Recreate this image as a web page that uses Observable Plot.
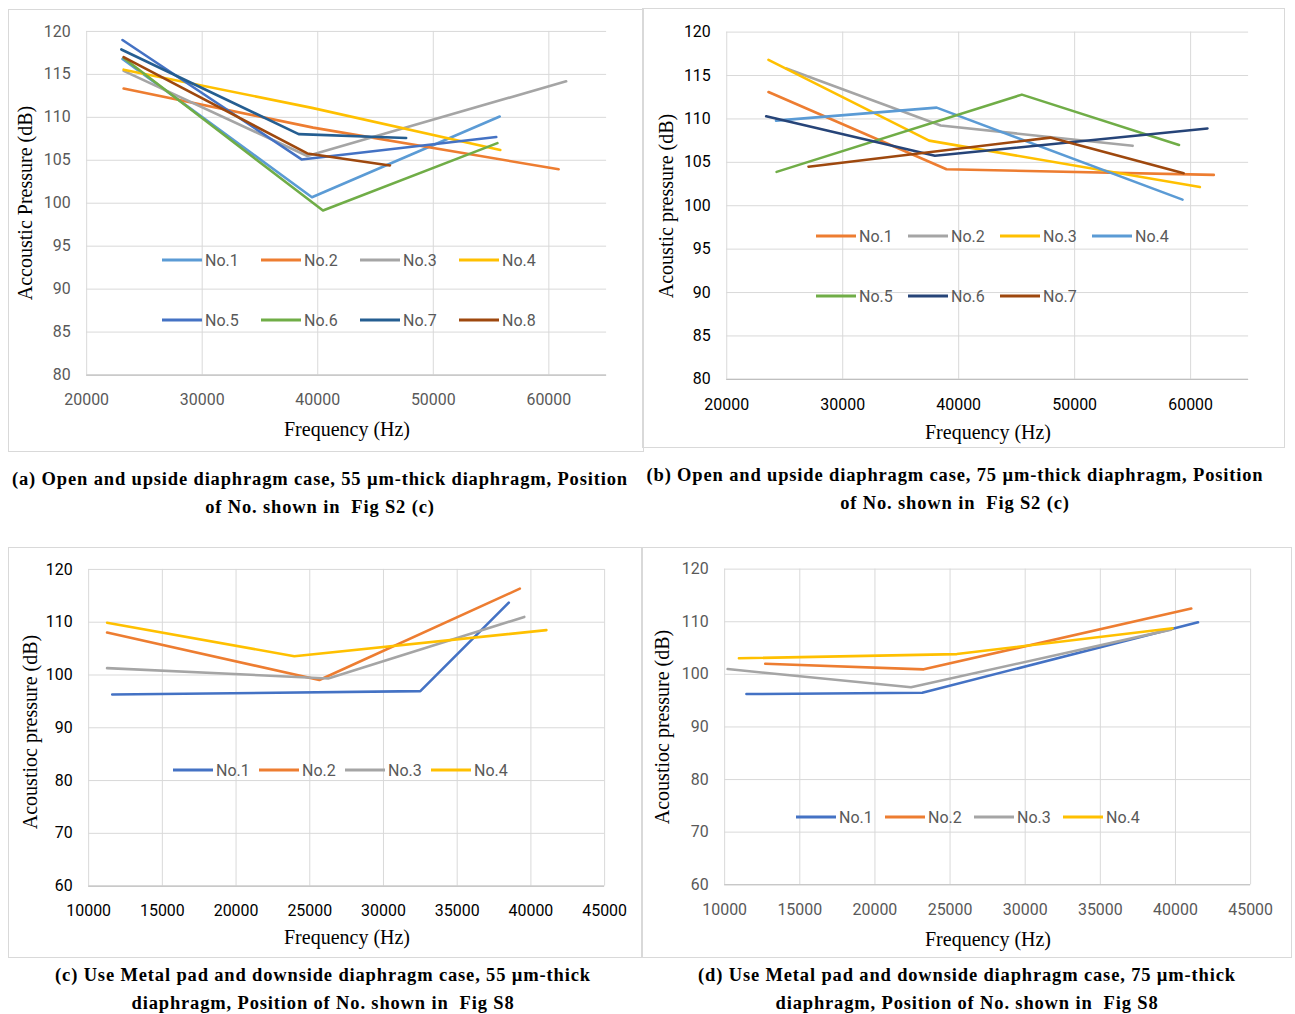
<!DOCTYPE html>
<html>
<head>
<meta charset="utf-8">
<script src="https://cdn.jsdelivr.net/npm/d3@7"></script>
<script src="https://cdn.jsdelivr.net/npm/@observablehq/plot@0.6"></script>
<style>
  body { margin: 0; background: #fff; width: 1295px; height: 1014px; position: relative; overflow: hidden; }
  .box { position: absolute; border: 1px solid #d9d9d9; box-sizing: border-box; }
  .box svg { position: absolute; left: -1px; top: -1px; }
  .lbl { position: absolute; font-family: "Liberation Serif", "Times New Roman", serif; font-size: 20px; color: #000; white-space: nowrap; transform: translate(-50%, -50%); }
  .ylbl { transform: translate(-50%, -50%) rotate(-90deg); }
  .leg { position: absolute; font-family: Roboto, sans-serif; font-size: 16px; color: #595959; white-space: nowrap; display: flex; align-items: center; transform: translateY(-50%); }
  .leg span.sw { display: inline-block; width: 40px; height: 3px; margin-right: 3px; }
  .cap { position: absolute; font-family: "Liberation Serif", "Times New Roman", serif; font-weight: bold; font-size: 18.5px; color: #000; white-space: pre; transform: translate(-50%, -50%); letter-spacing: 0.85px; }
</style>
</head>
<body>
<script>
// ---- (a) open / upside diaphragm, 55 µm ----
const namesA = ["No.1", "No.2", "No.3", "No.4", "No.5", "No.6", "No.7", "No.8"];
const colorsA = ["#5B9BD5", "#ED7D31", "#A5A5A5", "#FFC000", "#4472C4", "#70AD47", "#255E91", "#9E480E"];
const seriesA = [
  [[23100, 116.8], [39500, 100.7], [55750, 110.1]],
  [[23200, 113.35], [39600, 108.8], [60850, 103.95]],
  [[23200, 115.4], [39100, 105.5], [61500, 114.2]],
  [[23200, 115.55], [39500, 111.1], [55800, 106.2]],
  [[23100, 119.0], [38600, 105.1], [55450, 107.7]],
  [[23200, 116.9], [40450, 99.15], [55550, 107.0]],
  [[23000, 117.9], [38350, 108.05], [47650, 107.6]],
  [[23200, 117.0], [39100, 105.8], [46250, 104.4]]
];
const xTicksA = [20000, 30000, 40000, 50000, 60000];
const yTicksA = [80, 85, 90, 95, 100, 105, 110, 115, 120];

// ---- (b) open / upside diaphragm, 75 µm ----
const namesB = ["No.1", "No.2", "No.3", "No.4", "No.5", "No.6", "No.7"];
const colorsB = ["#ED7D31", "#A5A5A5", "#FFC000", "#5B9BD5", "#70AD47", "#264478", "#9E480E"];
const seriesB = [
  [[23600, 113.1], [38950, 104.2], [62000, 103.55]],
  [[25150, 115.8], [38450, 109.25], [55000, 106.9]],
  [[23600, 116.8], [37450, 107.5], [60800, 102.15]],
  [[24250, 109.8], [38100, 111.3], [59300, 100.7]],
  [[24300, 103.9], [45450, 112.8], [59000, 107.0]],
  [[23400, 110.3], [37950, 105.75], [61450, 108.9]],
  [[27050, 104.5], [47900, 107.85], [59400, 103.75]]
];
const xTicksB = [20000, 30000, 40000, 50000, 60000];
const yTicksB = [80, 85, 90, 95, 100, 105, 110, 115, 120];

// ---- (c) metal pad / downside diaphragm, 55 µm ----
const namesC = ["No.1", "No.2", "No.3", "No.4"];
const colorsC = ["#4472C4", "#ED7D31", "#A5A5A5", "#FFC000"];
const seriesC = [
  [[11600, 96.3], [32500, 96.95], [38500, 113.7]],
  [[11250, 108.05], [25650, 99.05], [39250, 116.35]],
  [[11250, 101.3], [26250, 99.35], [39550, 111.0]],
  [[11250, 109.9], [23950, 103.55], [41050, 108.5]]
];
const xTicksC = [10000, 15000, 20000, 25000, 30000, 35000, 40000, 45000];
const yTicksC = [60, 70, 80, 90, 100, 110, 120];

// ---- (d) metal pad / downside diaphragm, 75 µm ----
const namesD = ["No.1", "No.2", "No.3", "No.4"];
const colorsD = ["#4472C4", "#ED7D31", "#A5A5A5", "#FFC000"];
const seriesD = [
  [[11450, 96.25], [23150, 96.5], [41500, 109.9]],
  [[12700, 102.0], [23250, 100.95], [41050, 112.5]],
  [[10200, 101.0], [22400, 97.55], [39700, 108.5]],
  [[10950, 103.05], [25450, 103.85], [39800, 108.75]]
];
const xTicksD = [10000, 15000, 20000, 25000, 30000, 35000, 40000, 45000];
const yTicksD = [60, 70, 80, 90, 100, 110, 120];

const captions = [
  ["(a) Open and upside diaphragm case, 55 µm-thick diaphragm, Position", "of No. shown in  Fig S2 (c)"],
  ["(b) Open and upside diaphragm case, 75 µm-thick diaphragm, Position", "of No. shown in  Fig S2 (c)"],
  ["(c) Use Metal pad and downside diaphragm case, 55 µm-thick", "diaphragm, Position of No. shown in  Fig S8"],
  ["(d) Use Metal pad and downside diaphragm case, 75 µm-thick", "diaphragm, Position of No. shown in  Fig S8"]
];

const panels = [
  { box: [8, 9, 636, 443], m: [22, 36, 76.3, 78.4], xDomain: [20000, 65000], xTicks: xTicksA, yDomain: [80, 120], yTicks: yTicksA,
    names: namesA, colors: colorsA, series: seriesA, tickColor: "#595959",
    yTitle: "Accoustic Pressure (dB)", yTitlePos: [25, 203], xTitlePos: [347, 429],
    legend: { x: 162, rows: [260, 320], step: 99, perRow: 4 }, cap: captions[0], capPos: [320, 479, 507] },
  { box: [642, 8, 643, 440], m: [23.7, 35, 68, 84.5], xDomain: [20000, 65000], xTicks: xTicksB, yDomain: [80, 120], yTicks: yTicksB,
    names: namesB, colors: colorsB, series: seriesB, tickColor: "#000",
    yTitle: "Acoustic pressure (dB)", yTitlePos: [666, 206], xTitlePos: [988, 432],
    legend: { x: 816, rows: [236, 296], step: 92, perRow: 4 }, cap: captions[1], capPos: [955, 475, 503] },
  { box: [8, 547, 634, 411], m: [22, 36, 71.3, 80.4], xDomain: [10000, 45000], xTicks: xTicksC, yDomain: [60, 120], yTicks: yTicksC,
    names: namesC, colors: colorsC, series: seriesC, tickColor: "#000",
    yTitle: "Acoustioc pressure (dB)", yTitlePos: [30, 732], xTitlePos: [347, 937],
    legend: { x: 173, rows: [770], step: 86, perRow: 4 }, cap: captions[2], capPos: [323, 975, 1003] },
  { box: [642, 547, 650, 411], m: [21.7, 40, 72.7, 82.4], xDomain: [10000, 45000], xTicks: xTicksD, yDomain: [60, 120], yTicks: yTicksD,
    names: namesD, colors: colorsD, series: seriesD, tickColor: "#595959",
    yTitle: "Acoustioc pressure (dB)", yTitlePos: [662, 727], xTitlePos: [988, 939],
    legend: { x: 796, rows: [817], step: 89, perRow: 4 }, cap: captions[3], capPos: [967, 975, 1003] }
];

function addDiv(cls, text, x, y) {
  const d = document.createElement("div");
  d.className = cls;
  d.textContent = text;
  d.style.left = x + "px";
  d.style.top = y + "px";
  document.body.appendChild(d);
  return d;
}

for (const p of panels) {
  const [left, top, width, height] = p.box;
  const rows = p.series.flatMap((pts, i) => pts.map(([f, v]) => ({ name: p.names[i], f, v })));
  const chart = Plot.plot({
    width, height,
    marginTop: p.m[0], marginRight: p.m[1], marginBottom: p.m[2], marginLeft: p.m[3],
    style: { fontFamily: "Roboto, sans-serif", fontSize: "16px", color: p.tickColor, background: "transparent", overflow: "visible" },
    x: { domain: p.xDomain, axis: null },
    y: { domain: p.yDomain, axis: null },
    color: { domain: p.names, range: p.colors },
    marks: [
      Plot.ruleX(p.xTicks, { stroke: "#d9d9d9", strokeWidth: 1 }),
      Plot.ruleY(p.yTicks, { stroke: "#d9d9d9", strokeWidth: 1 }),
      Plot.ruleY([p.yDomain[0]], { stroke: "#bfbfbf", strokeWidth: 1.2 }),
      Plot.axisX(p.xTicks, { tickSize: 0, tickPadding: 19, tickFormat: d3.format("d"), label: null, fill: p.tickColor }),
      Plot.axisY(p.yTicks, { tickSize: 0, tickPadding: 16, label: null, fill: p.tickColor }),
      Plot.line(rows, { x: "f", y: "v", z: "name", stroke: "name", strokeWidth: 2.6, strokeLinejoin: "round", strokeLinecap: "round" })
    ]
  });
  const box = document.createElement("div");
  box.className = "box";
  box.style.left = left + "px";
  box.style.top = top + "px";
  box.style.width = width + "px";
  box.style.height = height + "px";
  box.appendChild(chart);
  document.body.appendChild(box);

  // axis titles
  addDiv("lbl ylbl", p.yTitle, p.yTitlePos[0], p.yTitlePos[1]);
  addDiv("lbl", "Frequency (Hz)", p.xTitlePos[0], p.xTitlePos[1]);

  // legend entries inside the plot area
  p.names.forEach((n, i) => {
    const r = Math.floor(i / p.legend.perRow), c = i % p.legend.perRow;
    const d = document.createElement("div");
    d.className = "leg";
    d.style.left = (p.legend.x + c * p.legend.step) + "px";
    d.style.top = p.legend.rows[r] + "px";
    const sw = document.createElement("span");
    sw.className = "sw";
    sw.style.background = p.colors[i];
    d.appendChild(sw);
    d.appendChild(document.createTextNode(n));
    document.body.appendChild(d);
  });

  // caption below the panel
  addDiv("cap", p.cap[0], p.capPos[0], p.capPos[1]);
  addDiv("cap", p.cap[1], p.capPos[0], p.capPos[2]);
}
</script>
</body>
</html>
